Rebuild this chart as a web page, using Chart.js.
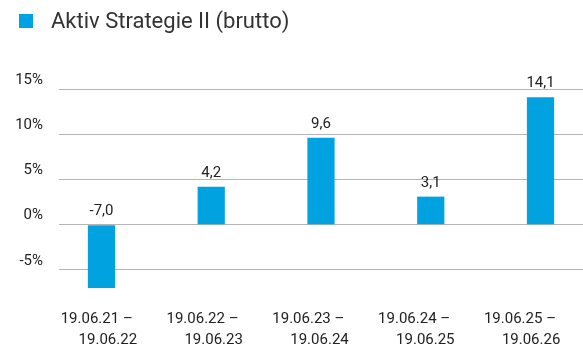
<!DOCTYPE html>
<html>
<head>
<meta charset="utf-8">
<script src="https://cdn.jsdelivr.net/npm/chart.js@4/dist/chart.umd.min.js"></script>
<style>
  html, body { margin: 0; padding: 0; background: #fff; overflow: hidden; }
  #wrap { position: relative; width: 583px; height: 349px; }
  #legend {
    position: absolute; left: 19px; top: 9px;
    font: 22px Roboto, sans-serif; color: #333; line-height: 24px;
    display: flex; align-items: center;
  }
  #legend .box { width: 14px; height: 14px; margin-right: 18px; }
  canvas { position: absolute; left: 0; top: 0; }
</style>
</head>
<body>
<div id="wrap">
  <canvas id="chart" width="583" height="349"></canvas>
  <div id="legend"><span class="box"></span><span class="text"></span></div>
</div>
<script>
const seriesName = "Aktiv Strategie II (brutto)";
const periodStart = ["19.06.21", "19.06.22", "19.06.23", "19.06.24", "19.06.25"];
const periodEnd = ["19.06.22", "19.06.23", "19.06.24", "19.06.25", "19.06.26"];
const returns = [-7.0, 4.2, 9.6, 3.1, 14.1];
const yTicks = [-5, 0, 5, 10, 15];

const barColor = "#00a3e0";
const textColor = "#222";

document.querySelector("#legend .box").style.background = barColor;
document.querySelector("#legend .text").textContent = seriesName;

Chart.defaults.font.family = "Roboto, sans-serif";
Chart.defaults.color = textColor;

// one tick per period, used by both horizontal scales
const periodTicks = (scale) => {
  scale.ticks = periodStart.map((_, i) => ({ value: i }));
};

// value above each bar (above the zero line for negative bars)
const valueLabels = {
  id: "valueLabels",
  afterDatasetsDraw(chart) {
    const ctx = chart.ctx;
    const meta = chart.getDatasetMeta(0);
    ctx.save();
    ctx.font = "15px Roboto, sans-serif";
    ctx.fillStyle = textColor;
    ctx.textAlign = "center";
    ctx.textBaseline = "alphabetic";
    meta.data.forEach((bar, i) => {
      const top = Math.min(bar.y, bar.base);
      ctx.fillText(returns[i].toFixed(1).replace(".", ","), bar.x, top - 10);
    });
    ctx.restore();
  },
};

new Chart(document.getElementById("chart"), {
  type: "bar",
  data: {
    datasets: [
      {
        label: seriesName,
        data: returns.map((v, i) => ({ x: i, y: v })),
        backgroundColor: barColor,
        barPercentage: 0.31,
        categoryPercentage: 0.8,
        xAxisID: "x",
        yAxisID: "y",
      },
    ],
  },
  options: {
    responsive: false,
    devicePixelRatio: 1,
    animation: false,
    layout: { padding: { top: 89, left: 0, right: 0, bottom: 0 } },
    plugins: { legend: { display: false }, tooltip: { enabled: false } },
    scales: {
      x: {
        type: "linear",
        offset: false,
        min: -0.387,
        max: 4.387,
        display: false,
        afterBuildTicks: periodTicks,
      },
      x2: {
        type: "linear",
        position: "bottom",
        offset: false,
        min: -0.409,
        max: 4.543,
        grid: { display: false, drawTicks: false },
        border: { display: false },
        afterBuildTicks: periodTicks,
        afterFit: (scale) => {
          scale.height = 52;
        },
        ticks: {
          padding: 12,
          maxRotation: 0,
          autoSkip: false,
          font: { size: 15, lineHeight: 1.4 },
          callback: (v) => [periodStart[v] + " –   ", "   " + periodEnd[v]],
        },
      },
      y: {
        min: -8,
        max: 15,
        afterBuildTicks: (scale) => {
          scale.ticks = yTicks.map((v) => ({ value: v }));
        },
        afterFit: (scale) => {
          scale.width = 59;
        },
        grid: { color: "#b5b5b5", lineWidth: 1, drawTicks: false },
        border: { display: false },
        ticks: {
          padding: 16,
          labelOffset: -9,
          font: { size: 15 },
          callback: (v) => v + "%",
        },
      },
    },
  },
  plugins: [valueLabels],
});
</script>
</body>
</html>
